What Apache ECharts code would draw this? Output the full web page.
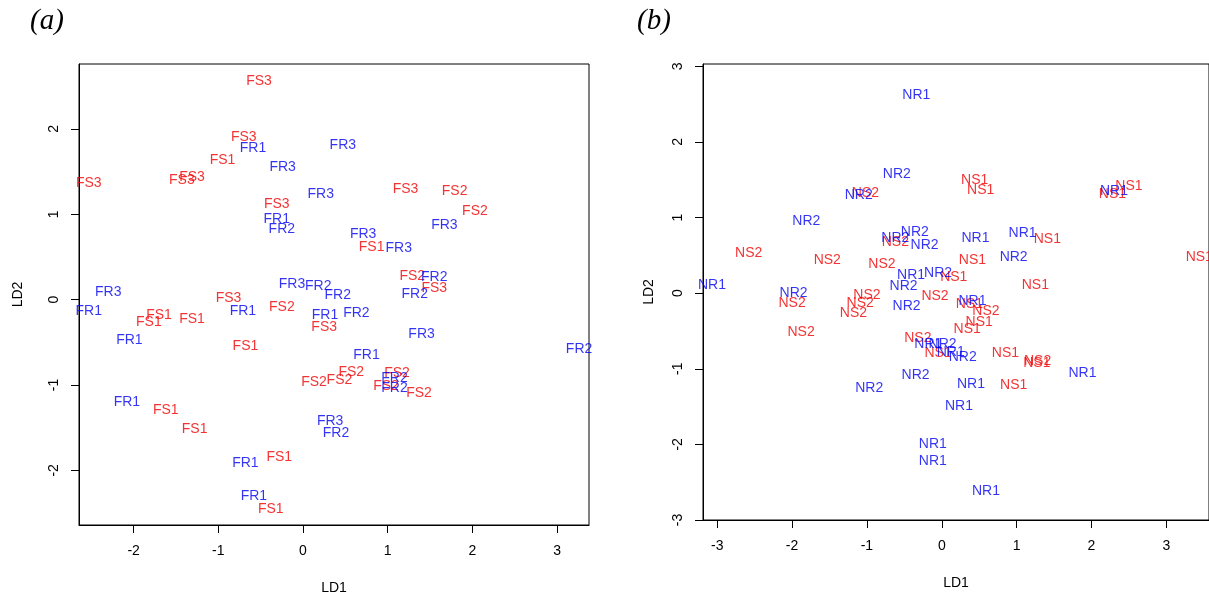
<!DOCTYPE html>
<html>
<head>
<meta charset="utf-8">
<script src="https://cdn.jsdelivr.net/npm/echarts@6/dist/echarts.min.js"></script>
<style>
  html, body { margin: 0; padding: 0; background: #fff; }
  #main { width: 1209px; height: 600px; }
</style>
</head>
<body>
<div id="main"></div>
<script>
// panel (a): [LD1, LD2, label]
const aFS = [
  [-0.52, 2.56, 'FS3'], [-0.70, 1.90, 'FS3'], [-0.95, 1.63, 'FS1'], [-1.31, 1.43, 'FS3'],
  [-1.43, 1.40, 'FS3'], [-2.53, 1.36, 'FS3'], [-0.31, 1.12, 'FS3'], [1.21, 1.29, 'FS3'],
  [1.79, 1.27, 'FS2'], [2.03, 1.04, 'FS2'], [0.81, 0.62, 'FS1'], [1.29, 0.28, 'FS2'],
  [1.55, 0.14, 'FS3'], [-0.88, 0.02, 'FS3'], [-0.25, -0.09, 'FS2'], [0.25, -0.32, 'FS3'],
  [-1.70, -0.18, 'FS1'], [-1.82, -0.26, 'FS1'], [-1.31, -0.23, 'FS1'], [-0.68, -0.55, 'FS1'],
  [-1.62, -1.29, 'FS1'], [-1.28, -1.52, 'FS1'], [0.13, -0.97, 'FS2'], [0.43, -0.94, 'FS2'],
  [0.57, -0.85, 'FS2'], [1.11, -0.86, 'FS2'], [0.98, -1.01, 'FS2'], [1.37, -1.10, 'FS2'],
  [-0.28, -1.84, 'FS1'], [-0.38, -2.45, 'FS1']
];
const aFR = [
  [-0.59, 1.77, 'FR1'], [-0.24, 1.55, 'FR3'], [0.47, 1.81, 'FR3'], [0.21, 1.24, 'FR3'],
  [-0.31, 0.94, 'FR1'], [-0.25, 0.83, 'FR2'], [0.71, 0.77, 'FR3'], [1.67, 0.87, 'FR3'],
  [1.13, 0.60, 'FR3'], [-2.30, 0.09, 'FR3'], [-0.13, 0.18, 'FR3'], [0.18, 0.16, 'FR2'],
  [0.41, 0.05, 'FR2'], [1.55, 0.26, 'FR2'], [1.32, 0.07, 'FR2'], [-2.53, -0.13, 'FR1'],
  [-0.71, -0.13, 'FR1'], [0.26, -0.18, 'FR1'], [0.63, -0.16, 'FR2'], [-2.05, -0.47, 'FR1'],
  [1.40, -0.40, 'FR3'], [3.26, -0.58, 'FR2'], [0.75, -0.65, 'FR1'], [1.08, -0.92, 'FR2'],
  [1.08, -1.04, 'FR2'], [-2.08, -1.20, 'FR1'], [0.32, -1.42, 'FR3'], [0.39, -1.56, 'FR2'],
  [-0.68, -1.91, 'FR1'], [-0.58, -2.30, 'FR1']
];
// panel (b)
const bNR = [
  [-0.34, 2.62, 'NR1'], [-0.60, 1.58, 'NR2'], [-1.11, 1.30, 'NR2'], [2.30, 1.35, 'NR1'],
  [0.45, 0.73, 'NR1'], [1.08, 0.79, 'NR1'], [0.96, 0.48, 'NR2'], [-0.36, 0.81, 'NR2'],
  [-0.62, 0.73, 'NR2'], [-0.23, 0.64, 'NR2'], [-0.41, 0.24, 'NR1'], [-0.05, 0.26, 'NR2'],
  [-0.51, 0.09, 'NR2'], [-0.47, -0.17, 'NR2'], [0.41, -0.10, 'NR1'], [-0.18, -0.67, 'NR1'],
  [0.01, -0.67, 'NR2'], [0.12, -0.78, 'NR1'], [0.28, -0.84, 'NR2'], [-0.35, -1.09, 'NR2'],
  [0.39, -1.21, 'NR1'], [-0.97, -1.26, 'NR2'], [-0.12, -2.00, 'NR1'], [-0.12, -2.22, 'NR1'],
  [0.23, -1.50, 'NR1'], [0.59, -2.62, 'NR1'], [1.88, -1.06, 'NR1'], [-1.81, 0.95, 'NR2'],
  [-3.07, 0.10, 'NR1'], [-1.98, 0.00, 'NR2']
];
const bNS = [
  [-1.02, 1.32, 'NS2'], [0.44, 1.49, 'NS1'], [0.52, 1.36, 'NS1'], [2.50, 1.41, 'NS1'],
  [2.28, 1.31, 'NS1'], [1.41, 0.72, 'NS1'], [0.41, 0.43, 'NS1'], [1.25, 0.11, 'NS1'],
  [3.44, 0.48, 'NS1'], [-0.62, 0.67, 'NS2'], [-0.80, 0.39, 'NS2'], [0.16, 0.21, 'NS1'],
  [-0.09, -0.04, 'NS2'], [-1.00, -0.02, 'NS2'], [-1.09, -0.13, 'NS2'], [-1.18, -0.27, 'NS2'],
  [0.37, -0.14, 'NS1'], [0.59, -0.24, 'NS2'], [0.50, -0.38, 'NS1'], [0.34, -0.47, 'NS1'],
  [-0.32, -0.60, 'NS2'], [-0.05, -0.80, 'NS1'], [0.85, -0.79, 'NS1'], [1.28, -0.90, 'NS2'],
  [1.27, -0.93, 'NS1'], [0.96, -1.22, 'NS1'], [-2.58, 0.53, 'NS2'], [-1.53, 0.44, 'NS2'],
  [-2.00, -0.13, 'NS2'], [-1.88, -0.52, 'NS2']
];
// tick labels
const aXTicks = [-2, -1, 0, 1, 2, 3];
const aYTicks = [-2, -1, 0, 1, 2];
const bXTicks = [-3, -2, -1, 0, 1, 2, 3];
const bYTicks = [-3, -2, -1, 0, 1, 2, 3];

const RED = '#f00000';
const BLUE = '#0000f0';
const FONT = '"Liberation Sans", Arial, Helvetica, sans-serif';

function xAx(gi, min, max, ticks) {
  return {
    type: 'value', gridIndex: gi, min: min, max: max,
    splitLine: { show: false },
    axisLine: { show: true, onZero: false, lineStyle: { color: '#000', width: 1 } },
    axisTick: { show: true, length: 8, customValues: ticks, lineStyle: { color: '#000' } },
    axisLabel: { customValues: ticks, margin: 19, color: '#000', fontSize: 14, fontFamily: FONT },
    name: 'LD1', nameLocation: 'middle', nameGap: 56,
    nameTextStyle: { color: '#000', fontSize: 14, fontFamily: FONT }
  };
}
function yAx(gi, min, max, ticks, gap) {
  return {
    type: 'value', gridIndex: gi, min: min, max: max,
    splitLine: { show: false },
    axisLine: { show: true, onZero: false, lineStyle: { color: '#000', width: 1 } },
    axisTick: { show: true, length: 8, customValues: ticks, lineStyle: { color: '#000' } },
    axisLabel: { customValues: ticks, rotate: 90, margin: 18, color: '#000', fontSize: 14, fontFamily: FONT },
    name: 'LD2', nameLocation: 'middle', nameGap: gap,
    nameTextStyle: { color: '#000', fontSize: 14, fontFamily: FONT }
  };
}
function labels(data, gi, color) {
  return {
    type: 'scatter', xAxisIndex: gi, yAxisIndex: gi,
    data: data, symbolSize: 1, silent: true,
    itemStyle: { color: 'rgba(0,0,0,0)' },
    label: {
      show: true, position: 'inside', color: color,
      fontSize: 14, fontFamily: FONT,
      formatter: p => p.value[2]
    },
    emphasis: { disabled: true }
  };
}

const chart = echarts.init(document.getElementById('main'));
chart.setOption({
  animation: false,
  backgroundColor: '#fff',
  title: [
    { text: '(a)', left: 25, top: 2,
      textStyle: { fontFamily: '"Liberation Serif", "Times New Roman", serif', fontStyle: 'italic', fontWeight: 'normal', fontSize: 29, color: '#000' } },
    { text: '(b)', left: 632, top: 2,
      textStyle: { fontFamily: '"Liberation Serif", "Times New Roman", serif', fontStyle: 'italic', fontWeight: 'normal', fontSize: 29, color: '#000' } }
  ],
  grid: [
    { left: 79, top: 64, width: 510, height: 462, show: true, borderColor: '#000', borderWidth: 1 },
    { left: 703, top: 64, width: 511, height: 456, show: true, borderColor: '#000', borderWidth: 1 }
  ],
  xAxis: [xAx(0, -2.645, 3.377, aXTicks), xAx(1, -3.19, 3.57, bXTicks)],
  yAxis: [yAx(0, -2.64, 2.76, aYTicks, 54), yAx(1, -3.0, 3.03, bYTicks, 47)],
  series: [
    labels(aFS, 0, RED), labels(aFR, 0, BLUE),
    labels(bNS, 1, RED), labels(bNR, 1, BLUE)
  ]
});
</script>
</body>
</html>
